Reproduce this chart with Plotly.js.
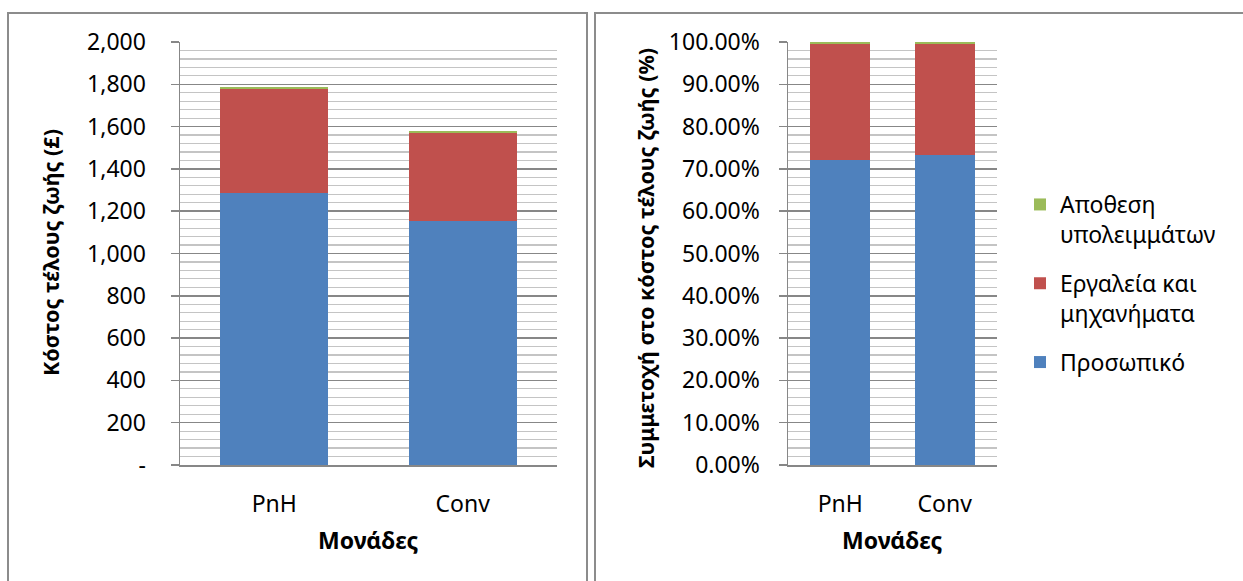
<!DOCTYPE html>
<html>
<head>
<meta charset="utf-8">
<script src="https://cdn.plot.ly/plotly-3.0.1.min.js"></script>
<style>html,body{margin:0;padding:0;background:#fff;}#chart{width:1243px;height:581px;}</style>
</head>
<body>
<div id="chart"></div>
<script>
// Categories
const units = ['PnH', 'Conv'];
// Series names
const seriesNames = ['Προσωπικό', 'Εργαλεία και<br>μηχανήματα', 'Αποθεση<br>υπολειμμάτων'];
// Left chart: end-of-life cost (£)
const staffCost = [1287, 1154];
const toolsCost = [489, 417];
const disposalCost = [9, 6];
// Right chart: share of end-of-life cost (%)
const staffShare = [72.0, 73.2];
const toolsShare = [27.6, 26.4];
const disposalShare = [0.4, 0.4];
// Left axis ticks
const costTickVals = [0, 200, 400, 600, 800, 1000, 1200, 1400, 1600, 1800, 2000];
const costTickText = ['-', '200', '400', '600', '800', '1,000', '1,200', '1,400', '1,600', '1,800', '2,000'];

const colors = ['#4F81BD', '#C0504D', '#9BBB59'];
const FONT = 'Noto Sans, Open Sans, sans-serif';
const W = 1243, H = 581;
const px = v => v / W;
const py = v => 1 - v / H;

const costSeries = [staffCost, toolsCost, disposalCost];
const shareSeries = [staffShare, toolsShare, disposalShare];
const groups = ['g1', 'g2', 'g3'];
const ranks = [3, 2, 1];

const traces = [];
costSeries.forEach((s, i) => {
  traces.push({type: 'bar', x: units, y: s, name: seriesNames[i], marker: {color: colors[i]},
    xaxis: 'x', yaxis: 'y', showlegend: false, legendgroup: groups[i], legendrank: ranks[i], hoverinfo: 'x+y+name'});
});
shareSeries.forEach((s, i) => {
  traces.push({type: 'bar', x: units, y: s, name: seriesNames[i], marker: {color: colors[i]},
    xaxis: 'x2', yaxis: 'y2', showlegend: true, legendgroup: groups[i], legendrank: ranks[i], hoverinfo: 'x+y+name'});
});

const gridMajor = '#878787';
const gridMinor = '#c4c4c4';
const tickFont = {family: FONT, size: 23, color: '#000'};
const titleFont = {family: FONT, size: 23, color: '#000', weight: 'bold'};
const yTitleFont = {family: FONT, size: 21.5, color: '#000', weight: 'bold'};

const yDomain = [py(465), py(42)];

const layout = {
  width: W, height: H,
  margin: {l: 0, r: 0, t: 0, b: 0, pad: 0},
  paper_bgcolor: '#fff', plot_bgcolor: '#fff',
  barmode: 'stack', bargap: 0.427,
  showlegend: true,
  legend: {
    x: px(1020), y: py(183), xanchor: 'left', yanchor: 'top',
    font: {family: FONT, size: 23, color: '#000'},
    traceorder: 'grouped', tracegroupgap: 16, valign: 'top',
    bgcolor: 'rgba(0,0,0,0)'
  },
  xaxis: {
    domain: [px(180), px(557)], anchor: 'y', type: 'category',
    showline: true, linecolor: gridMajor, linewidth: 1.5, ticks: '',
    tickfont: tickFont, ticklabelstandoff: 18, showgrid: false, zeroline: false
  },
  yaxis: {
    domain: yDomain, anchor: 'x', range: [0, 2000],
    tickmode: 'array', tickvals: costTickVals, ticktext: costTickText,
    showline: true, linecolor: gridMajor, linewidth: 1.5,
    ticks: 'outside', ticklen: 8, tickcolor: gridMajor, tickwidth: 1.5,
    tickfont: tickFont, ticklabelstandoff: 20,
    showgrid: true, gridcolor: gridMajor, gridwidth: 1.5, zeroline: false,
    minor: {dtick: 40, tick0: 0, showgrid: true, gridcolor: gridMinor, gridwidth: 1.2, ticks: ''}
  },
  xaxis2: {
    domain: [px(788), px(997)], anchor: 'y2', type: 'category',
    showline: true, linecolor: gridMajor, linewidth: 1.5, ticks: '',
    tickfont: tickFont, ticklabelstandoff: 18, showgrid: false, zeroline: false
  },
  yaxis2: {
    domain: yDomain, anchor: 'x2', range: [0, 100],
    tickmode: 'linear', tick0: 0, dtick: 10, tickformat: '.2f', ticksuffix: '%',
    showline: true, linecolor: gridMajor, linewidth: 1.5,
    ticks: 'outside', ticklen: 8, tickcolor: gridMajor, tickwidth: 1.5,
    tickfont: tickFont, ticklabelstandoff: 14,
    showgrid: true, gridcolor: gridMajor, gridwidth: 1.5, zeroline: false,
    minor: {dtick: 2, tick0: 0, showgrid: true, gridcolor: gridMinor, gridwidth: 1.2, ticks: ''}
  },
  annotations: [
    {text: 'Κόστος τέλους ζωής (£)', xref: 'paper', yref: 'paper', x: px(51), y: py(253),
     xanchor: 'center', yanchor: 'middle', textangle: -90, showarrow: false, font: yTitleFont},
    {text: 'Μονάδες', xref: 'paper', yref: 'paper', x: px(368.5), y: py(540),
     xanchor: 'center', yanchor: 'middle', showarrow: false, font: titleFont},
    {text: 'Συμμετοχή στο κόστος τέλους ζωής (%)', xref: 'paper', yref: 'paper', x: px(645), y: py(258),
     xanchor: 'center', yanchor: 'middle', textangle: -90, showarrow: false, font: yTitleFont},
    {text: 'Μονάδες', xref: 'paper', yref: 'paper', x: px(892.5), y: py(540),
     xanchor: 'center', yanchor: 'middle', showarrow: false, font: titleFont}
  ],
  shapes: [
    {type: 'rect', xref: 'paper', yref: 'paper', x0: px(8), x1: px(587), y0: -0.2, y1: py(13),
     line: {color: '#8c8c8c', width: 2}, fillcolor: 'rgba(0,0,0,0)', layer: 'below'},
    {type: 'rect', xref: 'paper', yref: 'paper', x0: px(595), x1: 1.2, y0: -0.2, y1: py(13),
     line: {color: '#8c8c8c', width: 2}, fillcolor: 'rgba(0,0,0,0)', layer: 'below'}
  ]
};

Plotly.newPlot('chart', traces, layout, {displayModeBar: false, staticPlot: true});
</script>
</body>
</html>
